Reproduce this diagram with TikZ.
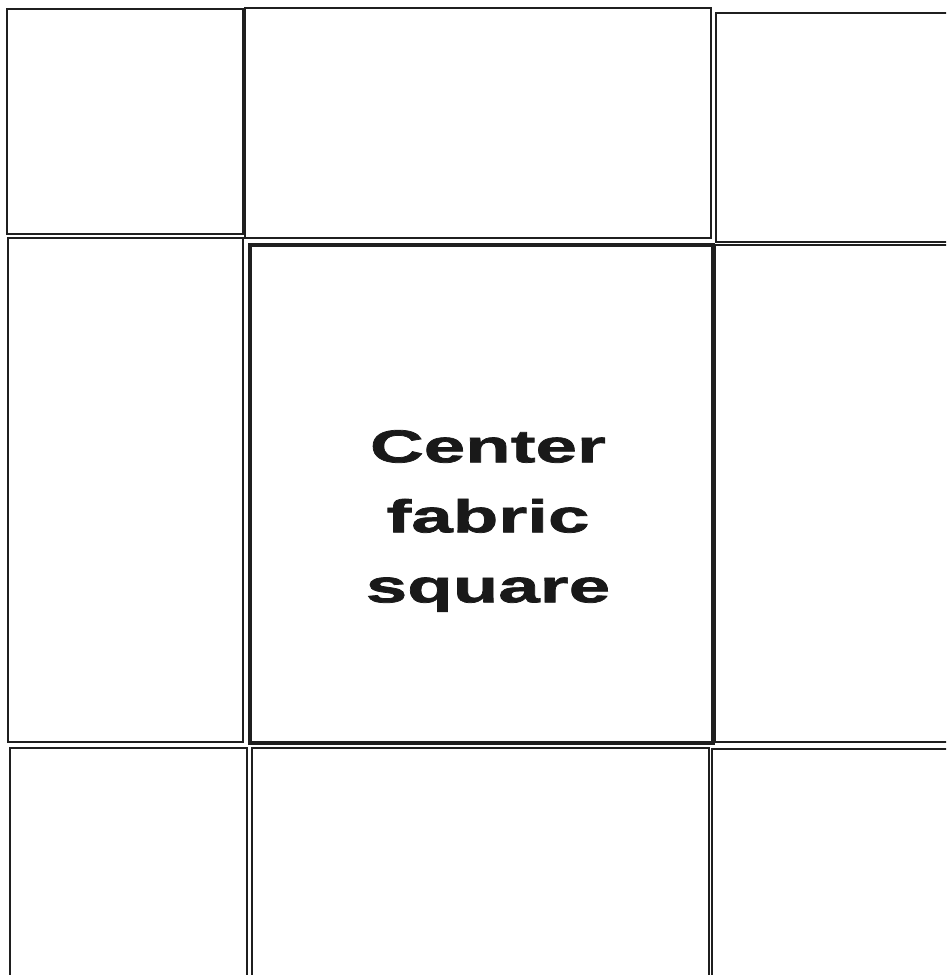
\documentclass[tikz,border=0pt]{standalone}
\usepackage{fontspec}
\newfontfamily\labelfont[FakeStretch=1.62,FakeBold=1.6]{Liberation Sans Bold}
\begin{document}
\begin{tikzpicture}[x=1pt,y=-1pt,
  cell/.style={draw=black!88,line width=2.8pt},
  centercell/.style={draw=black!88,line width=4.8pt},
  labeltext/.style={font=\labelfont\fontsize{46}{70}\selectfont,align=center,text=black!90,inner sep=0pt}]
\useasboundingbox[fill=white] (0,0) rectangle (946,975);
\clip (0,0) rectangle (946,975);
\draw[cell] (7,9) rectangle (243,234);
\draw[cell] (245,8) rectangle (711,238);
\draw[cell] (716,13) rectangle (960,242);
\draw[cell] (8,238) rectangle (243,742);
\draw[cell] (715,245) rectangle (960,742);
\draw[cell] (10,748) rectangle (247,990);
\draw[cell] (252,748) rectangle (709,990);
\draw[cell] (712,749) rectangle (960,990);
\draw[centercell] (250,245) rectangle (713,743);
\node[labeltext] (label) at (488,521) {Center\\fabric\\square};
\end{tikzpicture}
\end{document}
